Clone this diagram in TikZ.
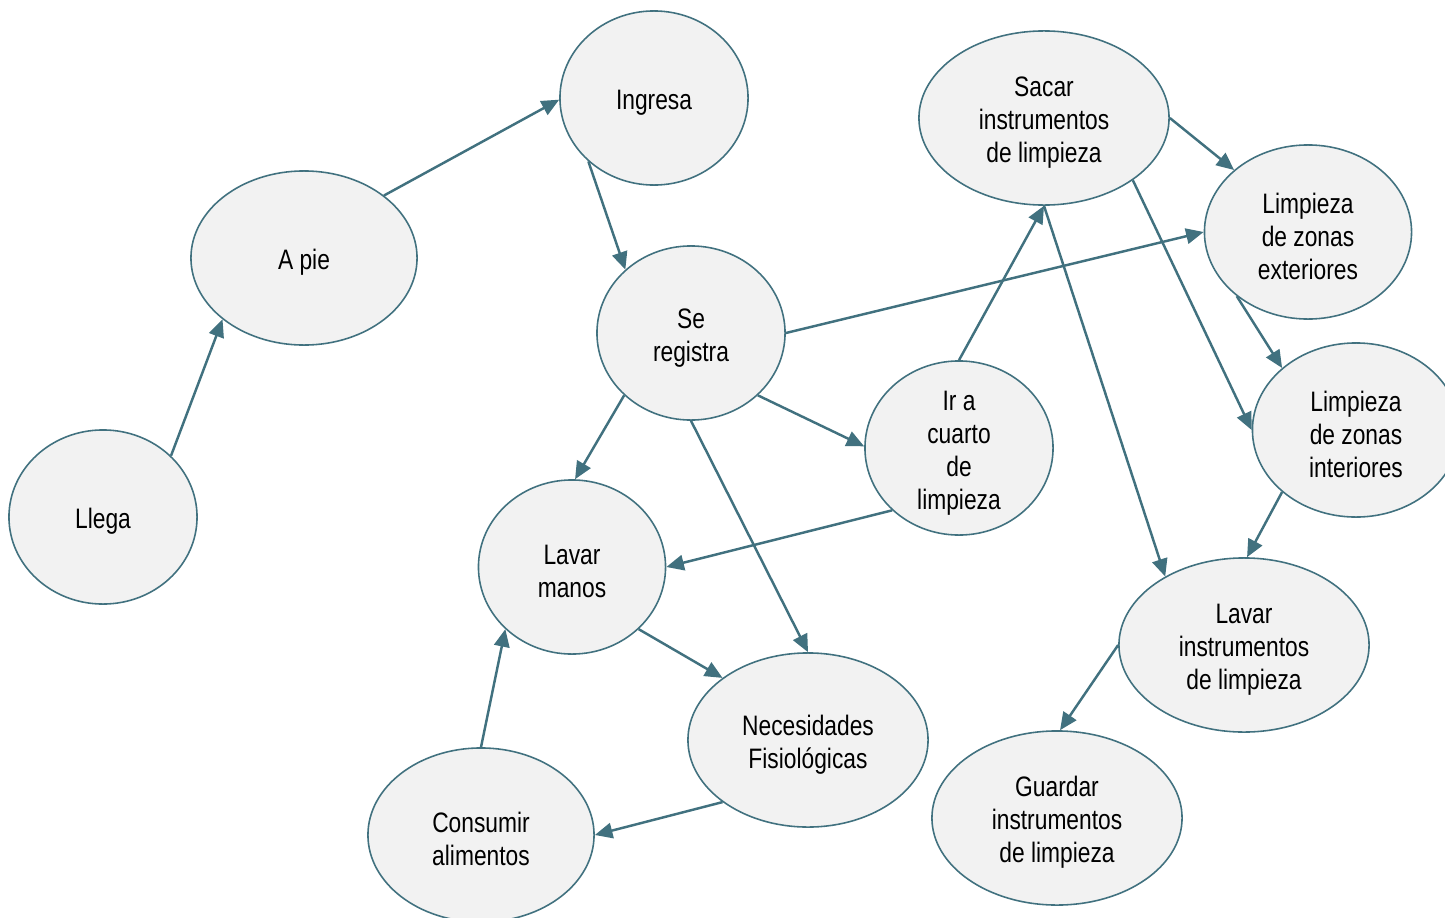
\documentclass[tikz,border=0pt]{standalone}
\usepackage{fontspec}
\setmainfont{Liberation Sans}[FakeStretch=0.81]
\usetikzlibrary{shapes.geometric,arrows.meta}
\definecolor{edge}{HTML}{41717F}
\definecolor{bubble}{HTML}{F2F2F2}
\newcommand\tup{\rule{0pt}{8.3pt}}
\tikzset{
  bub/.style={ellipse,draw=edge,line width=0.45pt,fill=bubble,inner xsep=0pt,inner ysep=-8pt,
    minimum height=1.74cm,align=center,font=\fontsize{8pt}{9.4pt}\selectfont,text=black},
  conn/.style={draw=edge,line width=0.7pt,-{Triangle[length=5pt,width=4.4pt]}}
}
\begin{document}
\begin{tikzpicture}[x=0.01cm,y=-0.01cm]
\useasboundingbox (0,0) rectangle (1445,918);
\clip (0,0) rectangle (1445,918);
\node[bub,minimum width=1.88cm] (llega) at (103,517) {\tup Llega};
\node[bub,minimum width=2.26cm] (apie) at (304,258) {\tup A pie};
\node[bub,minimum width=1.88cm] (ingresa) at (654,98) {\tup Ingresa};
\node[bub,minimum width=1.88cm] (registra) at (691,333) {\tup Se\\registra};
\node[bub,minimum width=1.87cm] (lavarmanos) at (572,567) {\tup Lavar\\manos};
\node[bub,minimum width=1.88cm] (cuarto) at (959,448) {\tup Ir a\\cuarto\\de\\limpieza};
\node[bub,minimum width=2.40cm] (necesidades) at (808,740) {\tup Necesidades\\Fisiológicas};
\node[bub,minimum width=2.26cm] (consumir) at (481,835) {\tup Consumir\\alimentos};
\node[bub,minimum width=2.50cm] (sacar) at (1044,118) {\tup Sacar\\instrumentos\\de limpieza};
\node[bub,minimum width=2.07cm] (ext) at (1308,232) {\tup Limpieza\\de zonas\\exteriores};
\node[bub,minimum width=2.07cm] (int) at (1356,430) {\tup Limpieza\\de zonas\\interiores};
\node[bub,minimum width=2.50cm] (lavarinst) at (1244,645) {\tup Lavar\\instrumentos\\de limpieza};
\node[bub,minimum width=2.50cm] (guardar) at (1057,818) {\tup Guardar\\instrumentos\\de limpieza};

\draw[conn] (llega.42) -- (apie.217);
\draw[conn] (apie.38) -- (ingresa.181);
\draw[conn] (ingresa.224) -- (registra.136);
\draw[conn] (registra.0.6) -- (ext.180.6);
\draw[conn] (registra.-43) -- (cuarto.179.4);
\draw[conn] (registra.223) -- (lavarmanos.88);
\draw[conn] (registra.270.7) -- (necesidades.90.7);
\draw[conn] (cuarto.90) -- (sacar.270);
\draw[conn] (cuarto.223) -- (lavarmanos.0);
\draw[conn] (lavarmanos.317) -- (necesidades.144);
\draw[conn] (necesidades.216) -- (consumir.0);
\draw[conn] (consumir.90) -- (lavarmanos.223);
\draw[conn] (sacar.0) -- (ext.140);
\draw[conn] (sacar.325) -- (int.180);
\draw[conn] (sacar.270) -- (lavarinst.139);
\draw[conn] (ext.222) -- (int.140);
\draw[conn] (int.220) -- (lavarinst.88.7);
\draw[conn] (lavarinst.180) -- (guardar.88);
\end{tikzpicture}
\end{document}
